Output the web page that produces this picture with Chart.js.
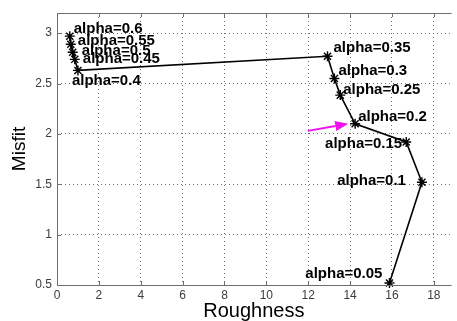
<!DOCTYPE html>
<html>
<head>
<meta charset="utf-8">
<script src="https://cdn.jsdelivr.net/npm/chart.js@4.4.1/dist/chart.umd.min.js"></script>
<style>
  html, body { margin: 0; padding: 0; background: #fff; overflow: hidden; }
  #chartCanvas { display: block; }
</style>
</head>
<body>
<canvas id="chartCanvas" width="457" height="321"></canvas>
<script>
// datos (L-curve)
const alphaLabels = ['alpha=0.05', 'alpha=0.1', 'alpha=0.15', 'alpha=0.2', 'alpha=0.25', 'alpha=0.3',
                     'alpha=0.35', 'alpha=0.4', 'alpha=0.45', 'alpha=0.5', 'alpha=0.55', 'alpha=0.6'];
const roughness = [15.88, 17.43, 16.68, 14.24, 13.53, 13.25, 12.92, 1.0, 0.85, 0.75, 0.66, 0.61];
const misfit    = [0.52, 1.52, 1.92, 2.10, 2.385, 2.55, 2.77, 2.63, 2.74, 2.81, 2.89, 2.97];

const xTicks = [0, 2, 4, 6, 8, 10, 12, 14, 16, 18];
const yTicks = [0.5, 1, 1.5, 2, 2.5, 3];

// flecha magenta (inicio, fin)
const arrowFrom = [11.98, 2.03];
const arrowTo = [13.91, 2.10];

// desplazamiento de cada etiqueta respecto a su punto (px)
const labelOffsets = [
  [-7, -5, 'right'], [-16, 3, 'right'], [-4, 6, 'right'], [3, -3, 'left'],
  [3, -1, 'left'], [4, -3, 'left'], [6, -4, 'left'], [-6, 15, 'left'],
  [8, 4, 'left'], [9, 3, 'left'], [7, 1, 'left'], [4, -3, 'left']
];

document.addEventListener('DOMContentLoaded', function() {
  buildChart();
});

function buildChart() {

  let points = [];
  for (let i = 0; i < roughness.length; i++) {
    points.push({x: roughness[i], y: misfit[i]});
  }

  //marco, ticks interiores, etiquetas y flecha
  const extrasPlugin = {
    id: 'extras',
    afterDatasetsDraw(chart) {
      const ctx = chart.ctx;
      const area = chart.chartArea;
      const xs = chart.scales.x;
      const ys = chart.scales.y;
      ctx.save();

      ctx.strokeStyle = '#6e6e6e';
      ctx.lineWidth = 1;
      ctx.beginPath();
      ctx.moveTo(area.right + 1, area.top + 0.5);
      ctx.lineTo(area.left + 0.5, area.top + 0.5);
      ctx.lineTo(area.left + 0.5, area.bottom + 0.5);
      ctx.lineTo(area.right + 1, area.bottom + 0.5);
      for (let i = 0; i < xTicks.length; i++) {
        let px = Math.round(xs.getPixelForValue(xTicks[i])) + 0.5;
        ctx.moveTo(px, area.bottom);
        ctx.lineTo(px, area.bottom - 4);
        ctx.moveTo(px, area.top);
        ctx.lineTo(px, area.top + 4);
      }
      for (let i = 0; i < yTicks.length; i++) {
        let py = Math.round(ys.getPixelForValue(yTicks[i])) + 0.5;
        ctx.moveTo(area.left, py);
        ctx.lineTo(area.left + 4, py);
      }
      ctx.stroke();

      ctx.fillStyle = '#000';
      ctx.font = 'bold 15px "Liberation Sans", Arial, sans-serif';
      ctx.textBaseline = 'alphabetic';
      for (let i = 0; i < alphaLabels.length; i++) {
        let off = labelOffsets[i];
        ctx.textAlign = off[2];
        ctx.fillText(alphaLabels[i],
          xs.getPixelForValue(roughness[i]) + off[0],
          ys.getPixelForValue(misfit[i]) + off[1]);
      }

      let x0 = xs.getPixelForValue(arrowFrom[0]);
      let y0 = ys.getPixelForValue(arrowFrom[1]);
      let x1 = xs.getPixelForValue(arrowTo[0]);
      let y1 = ys.getPixelForValue(arrowTo[1]);
      let ang = Math.atan2(y1 - y0, x1 - x0);
      let headLen = 13;
      let headW = 5;
      let bx = x1 - headLen * Math.cos(ang);
      let by = y1 - headLen * Math.sin(ang);
      ctx.strokeStyle = '#ee11ee';
      ctx.fillStyle = '#ee11ee';
      ctx.lineWidth = 2;
      ctx.beginPath();
      ctx.moveTo(x0, y0);
      ctx.lineTo(bx, by);
      ctx.stroke();
      ctx.beginPath();
      ctx.moveTo(x1, y1);
      ctx.lineTo(bx + headW * Math.sin(ang), by - headW * Math.cos(ang));
      ctx.lineTo(bx - headW * Math.sin(ang), by + headW * Math.cos(ang));
      ctx.closePath();
      ctx.fill();

      ctx.restore();
    }
  };

  const data = {
    datasets: [
      {
        label: 'L-curve',
        data: points,
        borderColor: '#000',
        backgroundColor: '#000',
        borderWidth: 1.6,
        pointStyle: 'star',
        pointRadius: 5,
        pointBorderWidth: 1.4,
        pointBorderColor: '#000',
        tension: 0,
        clip: false
      }
    ]
  };

  const config = {
    type: 'line',
    data: data,
    plugins: [extrasPlugin],
    options: {
      responsive: false,
      animation: false,
      layout: { padding: { top: 13, right: 0, bottom: 0, left: 0 } },
      plugins: {
        legend: { display: false },
        tooltip: { enabled: false }
      },
      scales: {
        x: {
          type: 'linear',
          min: 0,
          max: 18.8,
          afterFit: function(scale) { scale.height = 36; },
          afterBuildTicks: function(scale) {
            scale.ticks = xTicks.map(v => ({value: v}));
          },
          grid: { color: '#707070', lineWidth: 1, drawTicks: false },
          border: { display: false, dash: [1, 3] },
          ticks: {
            padding: 3,
            color: '#3c3c3c',
            font: { family: '"Liberation Sans", Arial, sans-serif', size: 12 },
            maxRotation: 0
          },
          title: {
            display: true,
            text: 'Roughness',
            color: '#000',
            font: { family: '"Liberation Sans", Arial, sans-serif', size: 20, lineHeight: 1 },
            padding: { top: 0, bottom: 0 }
          }
        },
        y: {
          type: 'linear',
          min: 0.5,
          max: 3.2,
          afterFit: function(scale) { scale.width = 57; },
          afterBuildTicks: function(scale) {
            scale.ticks = yTicks.map(v => ({value: v}));
          },
          grid: { color: '#707070', lineWidth: 1, drawTicks: false },
          border: { display: false, dash: [1, 3] },
          ticks: {
            padding: 5,
            color: '#3c3c3c',
            font: { family: '"Liberation Sans", Arial, sans-serif', size: 12 },
            callback: function(v) { return String(v); }
          },
          title: {
            display: true,
            text: 'Misfit',
            color: '#000',
            font: { family: '"Liberation Sans", Arial, sans-serif', size: 19, lineHeight: 1.2 },
            padding: { top: 8, bottom: 0 }
          }
        }
      }
    }
  };

  const chartCanvas = document.getElementById('chartCanvas');
  return new Chart(chartCanvas, config);
}
</script>
</body>
</html>
